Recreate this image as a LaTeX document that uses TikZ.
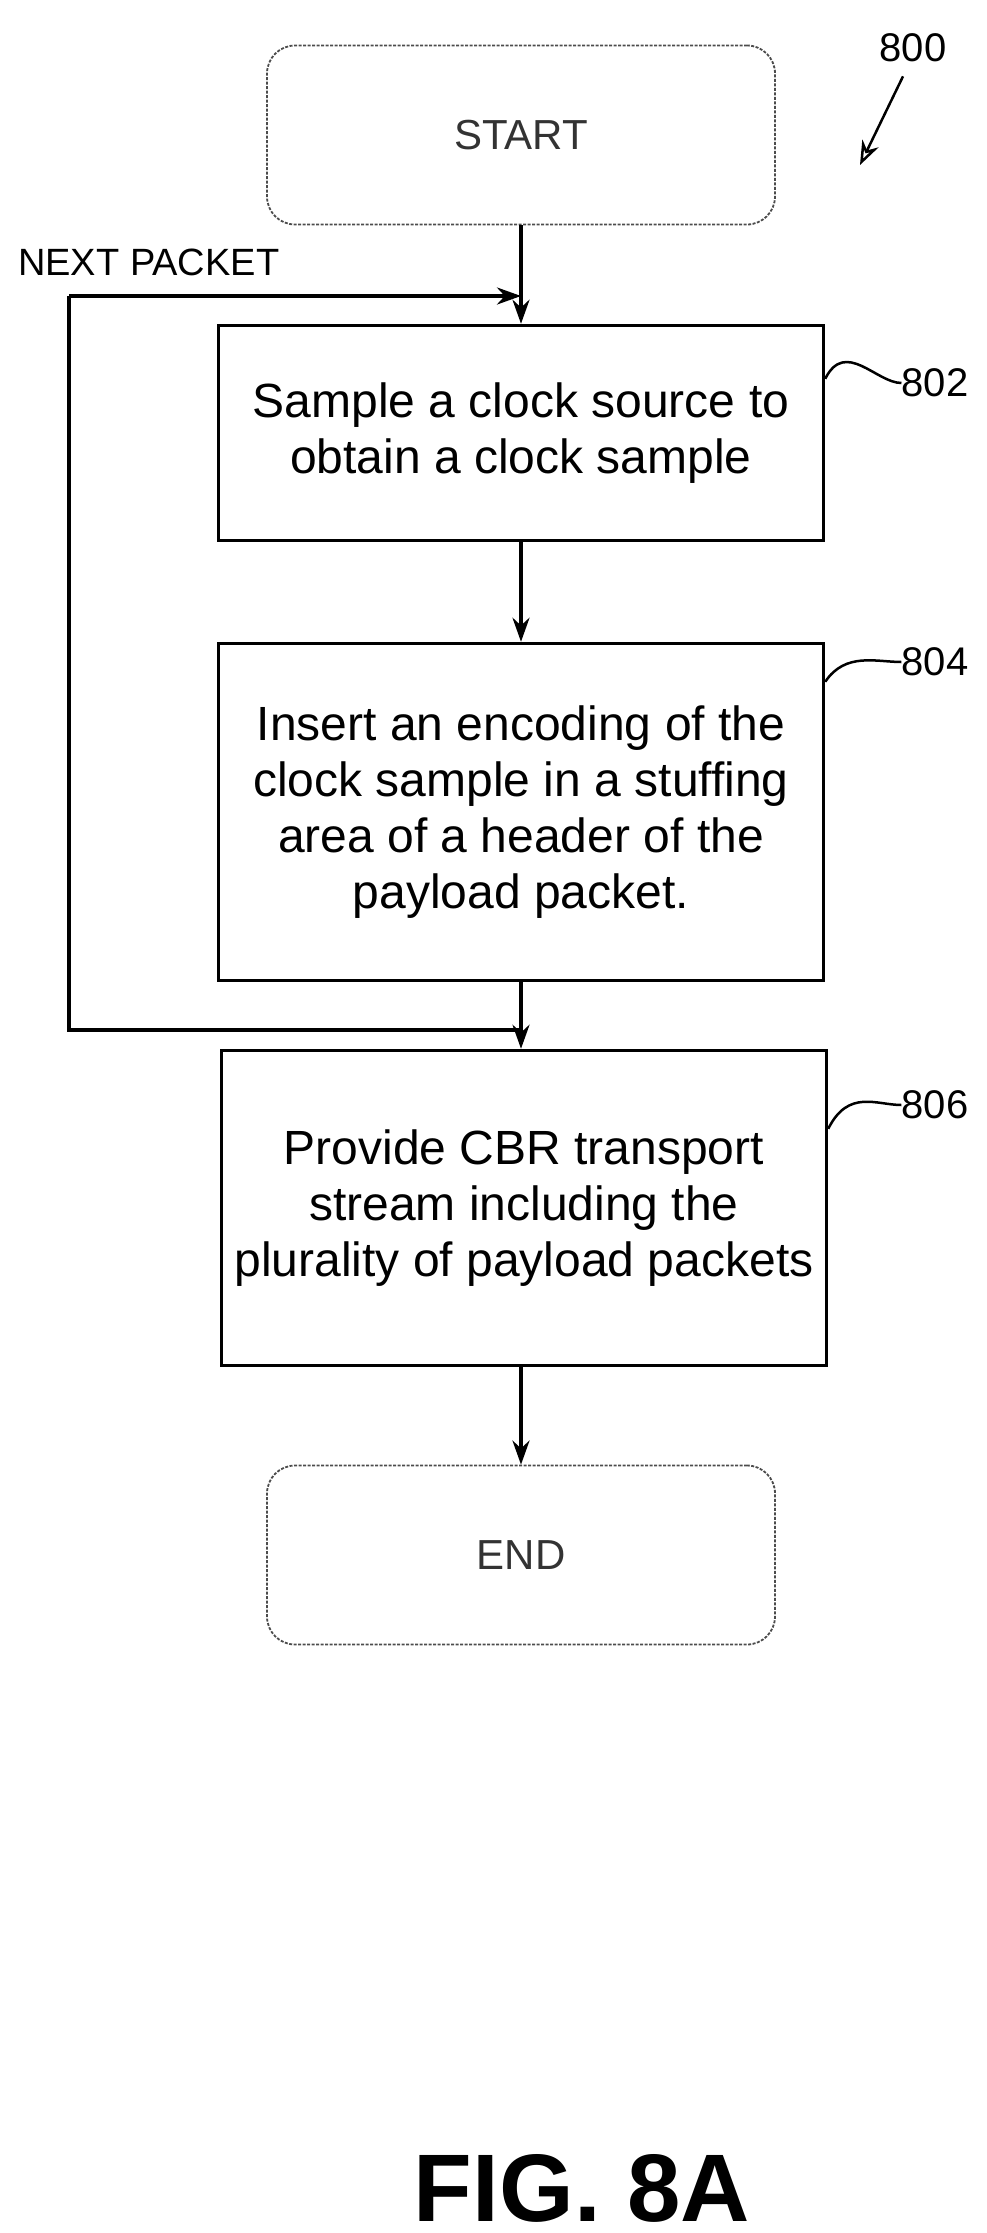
\documentclass[tikz,border=0pt]{standalone}
\usepackage{fontspec}
\setmainfont{Liberation Sans}
\usetikzlibrary{arrows.meta,positioning}
\begin{document}
\begin{tikzpicture}
  [
   x=1pt,y=-1pt,
   every node/.style={font=\fontsize{48}{56}\selectfont},
   proc/.style={rectangle,draw=black,line width=3.5pt,align=center,minimum width=605pt,inner sep=0pt},
   term/.style={rectangle,rounded corners=28pt,draw=black!70,line width=1.8pt,dashed,dash pattern=on 3pt off 1.5pt,minimum width=508pt,minimum height=179pt,font=\fontsize{42}{48}\selectfont\color{black!80}},
   flow/.style={line width=3.5pt,-{Stealth[length=24pt,width=17pt]}},
   lead/.style={line width=2.5pt},
   ref/.style={font=\fontsize{40}{46}\selectfont,inner sep=0pt}
  ]
   \useasboundingbox (0,0) rectangle (987,2233);
   \node[term] (start) at (521,135) {START};
   \node[proc,minimum height=215pt] (s802) at (521,433) {Sample a clock source to\\obtain a clock sample};
   \node[proc,minimum height=337pt] (s804) at (521,812) {Insert an encoding of the\\clock sample in a stuffing\\area of a header of the\\payload packet.};
   \node[proc,minimum height=315pt] (s806) at (524,1208) {Provide CBR transport\\stream including the\\plurality of payload packets};
   \node[term] (end) at (521,1555) {END};

   \coordinate (j1) at (521,296);
   \coordinate (j2) at (521,1030);
   \coordinate (l1) at (69,296);
   \coordinate (l2) at (69,1030);

   \draw[line width=3.5pt] (start) -- (j1);
   \draw[flow] (j1) -- (s802);
   \draw[flow] (s802) -- (s804);
   \draw[line width=3.5pt] (s804) -- (j2);
   \draw[flow] (j2) -- (s806.north -| j2);
   \draw[flow] (s806.south -| j2) -- (end);
   \draw[line width=3.5pt] (j2) -- (l2) -- (l1);
   \draw[flow] (l1) -- (j1);
   \node[ref,anchor=south west,font=\fontsize{38}{44}\selectfont] (np) at (18,276) {NEXT PACKET};

   % reference numerals
   \node[ref] (r800) at (913,48) {800};
   \node[ref] (r802) at (935,383) {802};
   \node[ref] (r804) at (935,662) {804};
   \node[ref] (r806) at (935,1105) {806};
   \draw[lead] (s802.north east) ++(0,55) coordinate (a802) .. controls +(20,-40) and +(-25,0) .. (r802.west);
   \draw[lead] (s804.north east) ++(0,40) coordinate (a804) .. controls +(20,-30) and +(-25,0) .. (r804.west);
   \draw[lead] (s806.north east) ++(0,80) coordinate (a806) .. controls +(20,-40) and +(-25,0) .. (r806.west);
   \draw[lead,-{Stealth[length=24pt,width=18pt,open]}] (r800.south) ++(-10,14) coordinate (a800) -- (860,165);

   \node[font=\fontsize{96}{100}\selectfont\bfseries] (fig) at (582,2188) {FIG. 8A};
\end{tikzpicture}
\end{document}
